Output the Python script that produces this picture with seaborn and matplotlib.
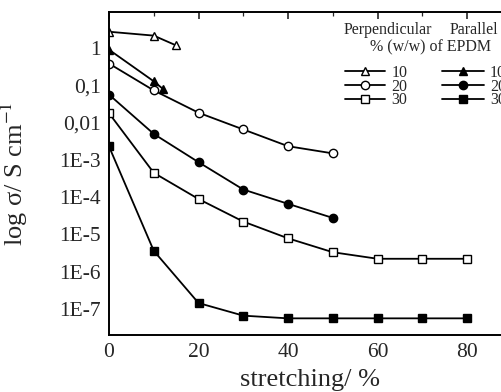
import matplotlib.pyplot as plt
import matplotlib.ticker as mticker
import numpy as np
import pandas as pd
import seaborn as sns

# stretching (%) and conductivity (S/cm)
perp10_x = [0, 10, 15]
perp10_y = [2.8, 2.2, 1.2]
par10_x = [0, 10, 12]
par10_y = [0.92, 0.13, 0.082]

perp20_x = [0, 10, 20, 30, 40, 50]
perp20_y = [0.39, 0.074, 0.0186, 0.0066, 0.00234, 0.0015]
par20_x = [0, 10, 20, 30, 40, 50]
par20_y = [0.057, 0.005, 8.7e-4, 1.6e-4, 6.6e-5, 2.76e-5]

perp30_x = [0, 10, 20, 30, 40, 50, 60, 70, 80]
perp30_y = [0.018, 4.5e-4, 8.9e-5, 2.2e-5, 7.8e-6, 3.3e-6, 2.2e-6, 2.2e-6, 2.2e-6]
par30_x = [0, 10, 20, 30, 40, 50, 60, 70, 80]
par30_y = [2.3e-3, 3.6e-6, 1.42e-7, 6.5e-8, 5.5e-8, 5.5e-8, 5.5e-8, 5.5e-8, 5.5e-8]

ytick_vals = [1, 0.1, 0.01, 1e-3, 1e-4, 1e-5, 1e-6, 1e-7]
ytick_labels = ["1", "0,1", "0,01", "1E-3", "1E-4", "1E-5", "1E-6", "1E-7"]
xtick_vals = [0, 20, 40, 60, 80]

sns.set_theme(style="white")
plt.rcParams["font.family"] = ["Liberation Serif", "DejaVu Serif"]
plt.rcParams["mathtext.fontset"] = "stix"

fig = plt.figure(figsize=(5.01, 3.92), dpi=100)
ax = fig.add_axes([0.2176, 0.1462, 0.804, 0.8232])

series = [
    (perp10_x, perp10_y, "^", "white", "10"),
    (perp20_x, perp20_y, "o", "white", "20"),
    (perp30_x, perp30_y, "s", "white", "30"),
    (par10_x, par10_y, "^", "black", "10"),
    (par20_x, par20_y, "o", "black", "20"),
    (par30_x, par30_y, "s", "black", "30"),
]

handles = []
for xs, ys, mk, face, lab in series:
    df = pd.DataFrame({"x": xs, "y": ys})
    sns.lineplot(
        data=df,
        x="x",
        y="y",
        ax=ax,
        color="black",
        linewidth=1.3,
        marker=mk,
        markersize=6,
        markerfacecolor=face,
        markeredgecolor="black",
        markeredgewidth=1.0,
        label=lab,
    )
    handles.append(ax.get_lines()[-1])
ax.get_legend().remove()

ax.set_yscale("log")
ax.set_ylim(2e-8, 9.5)
ax.set_xlim(0, 90)
ax.set_yticks(ytick_vals, ytick_labels)
ax.yaxis.set_minor_locator(mticker.LogLocator(base=10, subs=np.arange(2, 10)))
ax.yaxis.set_minor_formatter(mticker.NullFormatter())
ax.set_xticks(xtick_vals)
ax.xaxis.set_minor_locator(mticker.MultipleLocator(10))

ax.tick_params(axis="both", which="major", direction="in", length=5, width=1.2,
               labelsize=15.5, top=True, right=True, pad=6)
ax.tick_params(axis="both", which="minor", direction="in", length=3, width=0.9,
               top=True, right=True)
for sp in ax.spines.values():
    sp.set_linewidth(1.4)
    sp.set_color("black")

ax.set_xlabel("stretching/ %", fontsize=19)
ax.set_ylabel("log σ/ S cm$^{-1}$", fontsize=19)
ax.xaxis.set_label_coords(0.5, -0.105)
ax.yaxis.set_label_coords(-0.196, 0.5)

# legend: two columns with headers
leg_kw = dict(loc="upper left", bbox_transform=fig.transFigure, frameon=False,
              fontsize=11.5, handletextpad=0.4, labelspacing=-0.15,
              borderpad=0, borderaxespad=0)
leg1 = ax.legend(handles=handles[:3], labels=["10", "20", "30"],
                 bbox_to_anchor=(345 / 501, 1 - 65 / 392), handlelength=2.5, **leg_kw)
ax.add_artist(leg1)
ax.legend(handles=handles[3:], labels=["10", "20", "30"],
          bbox_to_anchor=(442 / 501, 1 - 65 / 392), handlelength=2.6, **leg_kw)

fig.text(388 / 501, 1 - 30 / 392, "Perpendicular", ha="center", va="center", fontsize=11.5)
fig.text(474 / 501, 1 - 30 / 392, "Parallel", ha="center", va="center", fontsize=11.5)
fig.text(431 / 501, 1 - 47 / 392, "% (w/w) of EPDM", ha="center", va="center", fontsize=11.5)

fig.savefig("out.png", dpi=100)
plt.close(fig)
